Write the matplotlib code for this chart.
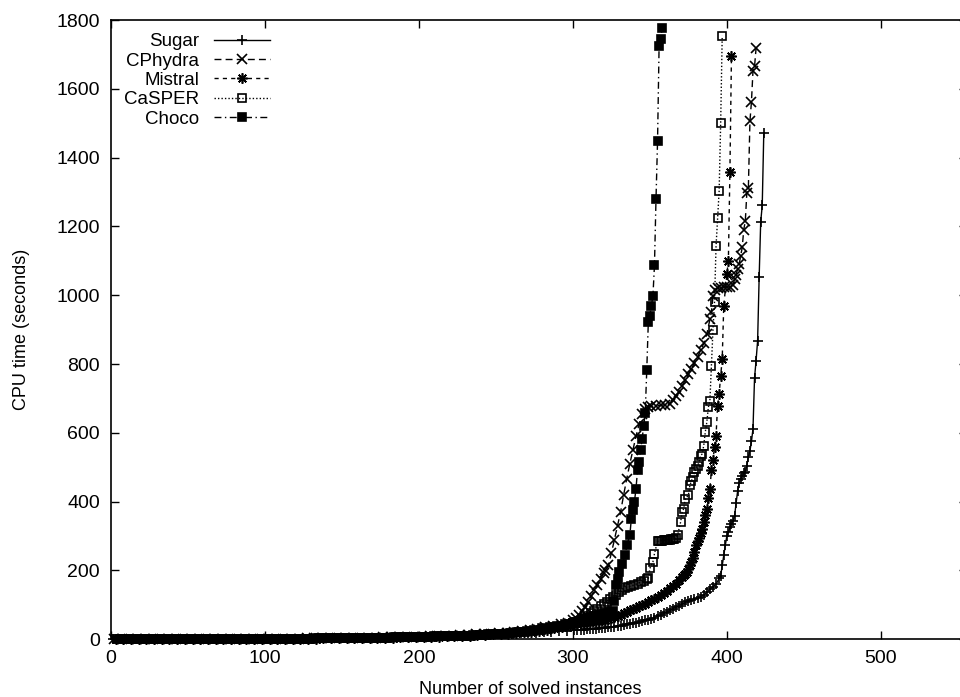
import matplotlib
matplotlib.use("Agg")
import matplotlib.pyplot as plt

plt.rcParams['font.family'] = ['Liberation Sans', 'DejaVu Sans']

# instance ranks sampled in the flat part (every 5th solved instance)
low_n = [1, 6, 11, 16, 21, 26, 31, 36, 41, 46,
         51, 56, 61, 66, 71, 76, 81, 86, 91, 96,
         101, 106, 111, 116, 121, 126, 131, 136, 141, 146,
         151, 156, 161, 166, 171, 176, 181, 186, 191, 196,
         201, 206, 211, 216, 221, 226, 231, 236, 241, 246,
         251, 256, 261, 266, 271, 276, 281, 286, 291, 296]

# Sugar
sugar_low = [0.1, 0.1, 0.2, 0.2, 0.2, 0.3, 0.3, 0.3, 0.4, 0.4,
             0.5, 0.5, 0.6, 0.6, 0.7, 0.7, 0.8, 0.9, 1.0, 1.1,
             1.2, 1.3, 1.4, 1.5, 1.7, 1.8, 2.0, 2.2, 2.4, 2.6,
             2.8, 3.0, 3.3, 3.6, 3.9, 4.2, 4.6, 5.0, 5.4, 5.9,
             6.4, 7.0, 7.6, 8.2, 8.9, 9.6, 10, 11, 12, 13,
             14, 15, 16, 17, 18, 19, 20, 21, 23, 25]
sugar_n = [301, 303, 305, 307, 309, 311, 313, 315, 317, 319, 321, 323, 325, 327, 329,
           331, 333, 335, 337, 339, 341, 343, 345, 347, 349, 351, 353, 355, 357, 359,
           361, 363, 365, 367, 369, 371, 373, 375, 377, 379, 381, 383, 385, 387, 389,
           391, 393,
           395, 396, 397, 398, 399, 400, 401, 402, 403, 404, 405, 406, 407, 408,
           409, 410, 411, 412, 413, 414, 415, 416, 417, 418, 419, 420, 421, 422, 423, 424]
sugar_t = [26, 27, 27, 28, 29, 29, 30, 31, 32, 33, 33, 35, 36, 37, 39,
           40, 42, 43, 45, 46, 48, 50, 52, 55, 57, 60, 63, 67, 71, 75,
           79, 84, 89, 94, 98, 102, 107, 111, 114, 117, 120, 124, 129, 136, 145,
           153, 160,
           177, 185, 215, 244, 273, 300, 312, 325, 336, 345, 357, 395, 430, 455,
           467, 475, 482, 487, 505, 530, 548, 575, 612, 760, 810, 868, 1053, 1213, 1261, 1471]

# CPhydra
cphydra_low = [0.2, 0.2, 0.3, 0.3, 0.3, 0.4, 0.4, 0.5, 0.5, 0.6,
               0.6, 0.7, 0.7, 0.8, 0.9, 1.0, 1.1, 1.2, 1.3, 1.4,
               1.5, 1.6, 1.8, 2.0, 2.2, 2.4, 2.6, 2.8, 3.0, 3.3,
               3.6, 3.9, 4.2, 4.6, 5.0, 5.4, 5.8, 6.3, 6.8, 7.4,
               8.0, 8.7, 9.4, 10, 11, 12, 13, 14, 15, 16,
               17, 19, 21, 24, 27, 31, 35, 39, 43, 48]
cphydra_n = [300, 302, 304, 306, 308, 310, 312, 314, 316, 318, 320, 321,
             323, 325, 327, 329, 331, 333, 335, 337, 339, 341, 343, 345, 347, 349, 351,
             354, 357, 360, 363, 365, 367, 369, 371, 373, 375, 377, 379, 381, 383, 385, 387,
             389, 390, 391, 392, 394, 396, 398, 400, 402, 404,
             405, 406, 407, 408, 409, 410, 411, 412, 413, 414, 415, 416, 417, 418, 419]
cphydra_t = [55, 63, 72, 81, 93, 108, 125, 142, 158, 175, 192, 200,
             215, 250, 290, 330, 370, 420, 467, 510, 550, 590, 625, 655, 668, 674, 677,
             678, 680, 682, 685, 695, 708, 720, 737, 753, 770, 787, 803, 820, 840, 860, 887,
             930, 951, 997, 1015, 1020, 1022, 1023, 1024, 1025, 1030,
             1046, 1060, 1075, 1090, 1114, 1139, 1191, 1215, 1298, 1313, 1505, 1563, 1653, 1665, 1718]

# Mistral
mistral_low = [0.1, 0.1, 0.1, 0.2, 0.2, 0.2, 0.3, 0.3, 0.3, 0.4,
               0.4, 0.5, 0.5, 0.6, 0.6, 0.7, 0.8, 0.9, 1.0, 1.1,
               1.2, 1.3, 1.4, 1.6, 1.7, 1.9, 2.1, 2.3, 2.5, 2.7,
               3.0, 3.2, 3.5, 3.8, 4.1, 4.5, 4.9, 5.3, 5.7, 6.2,
               6.7, 7.3, 7.9, 8.5, 9.2, 10, 11, 12, 13, 14,
               15, 16, 18, 20, 22, 25, 28, 32, 36, 40]
mistral_n = [301, 303, 305, 307, 309, 311, 313, 315, 317, 319, 321, 323, 325, 327, 329,
             331, 333, 335, 337, 339, 341, 343, 345, 347, 349, 351, 353, 355, 357, 359,
             361, 363, 365, 367, 369, 371, 372, 373, 374, 375, 376, 377, 378, 379, 380,
             381, 382, 383, 384, 385, 386, 387, 388, 389, 390, 391, 392, 393,
             394, 395, 396, 397, 398, 400, 401, 402, 403]
mistral_t = [43, 45, 46, 48, 49, 50, 52, 53, 54, 55, 56, 58, 61, 64, 68,
             72, 76, 80, 84, 88, 92, 97, 101, 104, 108, 113, 118, 124, 128, 134,
             141, 148, 155, 162, 171, 180, 186, 191, 196, 205, 215, 225, 235, 255, 273,
             285, 295, 308, 322, 340, 360, 380, 410, 438, 491, 520, 560, 592,
             679, 713, 766, 814, 969, 1061, 1100, 1358, 1694]

# CaSPER
casper_low = [0.1, 0.2, 0.2, 0.2, 0.3, 0.3, 0.3, 0.4, 0.4, 0.5,
              0.5, 0.6, 0.6, 0.7, 0.8, 0.8, 0.9, 1.0, 1.1, 1.2,
              1.3, 1.4, 1.6, 1.7, 1.9, 2.1, 2.3, 2.5, 2.7, 2.9,
              3.2, 3.5, 3.8, 4.1, 4.4, 4.8, 5.2, 5.6, 6.1, 6.6,
              7.1, 7.7, 8.3, 9.0, 9.7, 10, 11, 12, 13, 14,
              16, 18, 20, 22, 25, 28, 31, 35, 39, 44]
casper_n = [300, 302, 304, 306, 308, 310, 312, 314, 316, 318, 320, 322, 324, 326,
            328, 330, 332, 334, 336, 338, 340, 342, 344, 346, 348, 349,
            350, 352, 353, 355, 356, 357, 358, 359, 360, 361, 362, 363, 364, 365, 366, 367, 368,
            370, 371, 372, 373, 375, 376, 377, 378, 379, 380,
            381, 382, 383, 384, 385, 386, 387, 388, 389, 390,
            391, 392, 393, 394, 395, 396, 397]
casper_t = [48, 51, 54, 58, 63, 68, 75, 82, 89, 96, 102, 109, 116, 123,
            130, 138, 143, 148, 152, 155, 158, 162, 166, 170, 174, 177,
            206, 225, 249, 285, 286, 287, 287, 288, 288, 289, 290, 290, 291, 292, 292, 294, 302,
            341, 370, 380, 409, 418, 447, 460, 472, 485, 496,
            505, 515, 534, 539, 563, 602, 631, 674, 694, 795,
            899, 981, 1143, 1225, 1302, 1500, 1754]

# Choco
choco_low = [0.2, 0.2, 0.2, 0.3, 0.3, 0.4, 0.4, 0.4, 0.5, 0.5,
             0.6, 0.7, 0.7, 0.8, 0.9, 1.0, 1.0, 1.1, 1.2, 1.3,
             1.4, 1.6, 1.7, 1.9, 2.0, 2.2, 2.4, 2.6, 2.9, 3.1,
             3.4, 3.7, 4.0, 4.3, 4.7, 5.1, 5.5, 6.0, 6.5, 7.0,
             7.6, 8.2, 8.9, 9.6, 10, 11, 12, 13, 14, 15,
             16, 18, 21, 24, 28, 32, 36, 40, 44, 47]
choco_n = [300, 302, 304, 306, 308, 310, 312, 314, 316, 318, 320, 322, 324, 326,
           327, 328, 329,
           330, 332, 334, 335, 337, 338, 339, 340, 341, 342,
           343, 344, 345, 346, 347, 348, 349, 350, 351, 352,
           353, 354, 355, 356, 357, 358]
choco_t = [48, 51, 54, 57, 60, 62, 65, 67, 70, 72, 74, 76, 78, 81,
           110, 157, 175,
           196, 220, 244, 273, 302, 351, 375, 400, 438, 491,
           515, 550, 583, 620, 658, 783, 921, 940, 969, 998,
           1087, 1280, 1447, 1723, 1744, 1776]

x_ticks = [0, 100, 200, 300, 400, 500]
y_ticks = [0, 200, 400, 600, 800, 1000, 1200, 1400, 1600, 1800]

fig = plt.figure(figsize=(9.6, 6.97), dpi=100)
ax = fig.add_axes([0.1156, 0.0828, 0.8917, 0.8885])

common = dict(color='black', lw=1.0, mew=1.2, clip_on=False)
# each solver's flat part uses its own ranks, so the markers interleave
ax.plot(low_n + sugar_n, sugar_low + sugar_t, ls='-', marker='+', ms=7.5,
        label='Sugar', **common)
ax.plot([n + 1 for n in low_n] + cphydra_n, cphydra_low + cphydra_t, ls='--', dashes=(5, 3),
        marker='x', ms=6.5, label='CPhydra', **common)
ax.plot([n + 2 for n in low_n] + mistral_n, mistral_low + mistral_t, ls='--', dashes=(3, 3),
        marker=(8, 2, 0), ms=7.5, label='Mistral', **common)
ax.plot([n + 3 for n in low_n] + casper_n, casper_low + casper_t, ls=':', dashes=(1, 1.5),
        marker='s', ms=6, mfc='none', label='CaSPER', **common)
ax.plot([n + 4 for n in low_n] + choco_n, choco_low + choco_t, ls='-.', dashes=(5, 2.5, 1, 2.5),
        marker='s', ms=6.2, label='Choco', **common)

ax.set_xlim(0, 556)
ax.set_ylim(0, 1800)
ax.set_xticks(x_ticks)
ax.set_yticks(y_ticks)
ax.tick_params(direction='in', length=6, width=1, top=True, right=True,
               labelsize=14, pad=8)
for s in ax.spines.values():
    s.set_linewidth(1.2)

ax.set_xlabel('Number of solved instances', fontsize=13)
ax.set_ylabel('CPU time (seconds)', fontsize=13)
ax.xaxis.set_label_coords(0.49, -0.067)
ax.yaxis.set_label_coords(-0.095, 0.5)

ax.legend(loc='upper right', bbox_to_anchor=(0.186, 0.979), frameon=False,
          markerfirst=False, handlelength=3.0, handletextpad=0.8,
          labelspacing=0.12, borderpad=0, borderaxespad=0, numpoints=1,
          fontsize=13.5)

fig.savefig('out.png', dpi=100)
